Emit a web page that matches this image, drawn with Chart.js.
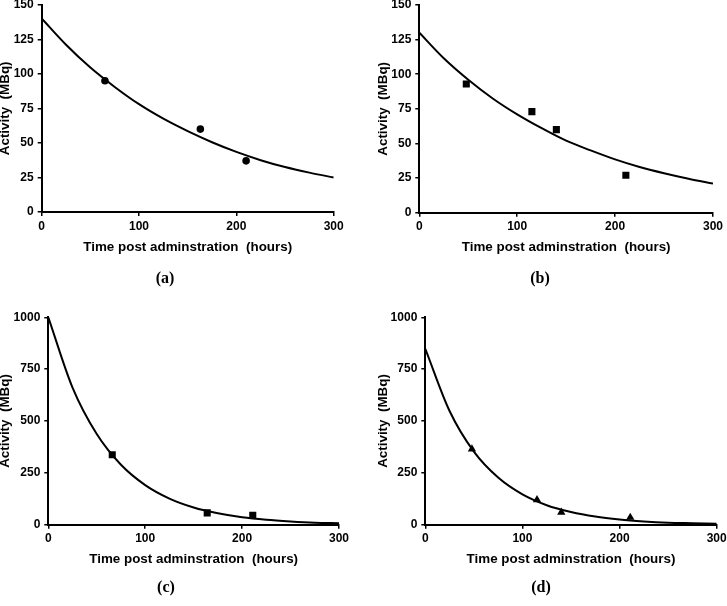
<!DOCTYPE html>
<html>
<head>
<meta charset="utf-8">
<script src="https://cdn.jsdelivr.net/npm/chart.js@4/dist/chart.umd.min.js"></script>
<style>
  html, body { margin: 0; padding: 0; background: #fff; }
  #wrap { position: relative; width: 727px; height: 606px; overflow: hidden; background: #fff; }
  canvas { position: absolute; left: 0; top: 0; }
  .lab { position: absolute; transform: translate(-50%, -50%); font-family: "Liberation Serif", "Times New Roman", serif; font-weight: bold; font-size: 16px; color: #000; white-space: nowrap; }
</style>
</head>
<body>
<div id="wrap">
  <canvas id="ca" width="727" height="606"></canvas>
  <canvas id="cb" width="727" height="606"></canvas>
  <canvas id="cc" width="727" height="606"></canvas>
  <canvas id="cd" width="727" height="606"></canvas>
  <div class="lab" style="left:165px; top:278px;">(a)</div>
  <div class="lab" style="left:540px; top:278px;">(b)</div>
  <div class="lab" style="left:166px; top:587px;">(c)</div>
  <div class="lab" style="left:541px; top:587px;">(d)</div>
</div>
<script>
// ---- data ----
const xTitle = "Time post adminstration  (hours)";
const yTitle = "Activity  (MBq)";
const panelLabels = ["(a)", "(b)", "(c)", "(d)"];
const xTickValues = [0, 100, 200, 300];

// fitted curves (read at every 25 h)
const curveHours = [0, 25, 50, 75, 100, 125, 150, 175, 200, 225, 250, 275, 300];
const curveA = [140, 121, 104.5, 90.5, 78, 67.5, 58.5, 50.5, 43.5, 37.5, 32.5, 28.5, 25];
const curveB = [130, 111.5, 96, 82.5, 71, 61, 52, 45, 38.5, 33, 28.5, 24.5, 21];
const curveC = [1000, 661, 437, 289, 191, 126, 83, 55, 36, 24, 16, 10, 7];
const curveD = [848, 548, 352, 227, 146, 94, 61, 39, 25, 16, 10, 7, 4];

// measured points
const hoursA = [65, 163, 210];
const valuesA = [95, 60, 37];
const hoursB = [48, 115, 140, 211];
const valuesB = [93, 73, 60, 27];
const hoursC = [66, 164, 211];
const valuesC = [337, 57, 45];
const hoursD = [48, 115, 140, 211];
const valuesD = [365, 120, 60, 35];

// ---- drawing ----
const W = 727, H = 606;
function pts(xs, ys) { return xs.map((x, i) => ({ x: x, y: ys[i] })); }

function makePanel(id, area, yMax, yStep, curve, px, py, style, radius) {
  const tickFont = { family: "'Liberation Sans', Arial, sans-serif", size: 12, weight: 'bold' };
  const titleFont = { family: "'Liberation Sans', Arial, sans-serif", size: 13.4, weight: 'bold', lineHeight: 1.2 };
  const halfLine = 13.4 * 1.2 / 2;
  const Wy = area.yTitleOff + halfLine;
  const Hx = 35 + halfLine;
  new Chart(document.getElementById(id), {
    type: 'scatter',
    data: {
      datasets: [
        {
          data: pts(curveHours, curve),
          showLine: true,
          borderColor: '#000',
          borderWidth: 2,
          pointRadius: 0,
          cubicInterpolationMode: 'monotone',
          fill: false
        },
        {
          data: pts(px, py),
          showLine: false,
          pointStyle: style,
          pointRadius: radius,
          backgroundColor: '#000',
          borderColor: '#000',
          borderWidth: 0
        }
      ]
    },
    options: {
      responsive: false,
      animation: false,
      devicePixelRatio: 1,
      layout: {
        padding: {
          left: area.left - Wy,
          right: W - area.right,
          top: area.top,
          bottom: H - area.bottom - Hx
        }
      },
      plugins: { legend: { display: false }, tooltip: { enabled: false } },
      scales: {
        x: {
          type: 'linear',
          min: 0, max: 300,
          afterBuildTicks: (s) => { s.ticks = xTickValues.map(v => ({ value: v })); },
          ticks: { color: '#000', font: tickFont, padding: 3, maxRotation: 0, callback: (v) => String(v) },
          grid: { display: true, drawOnChartArea: false, drawTicks: true, tickLength: 4, color: '#000', lineWidth: 1.5 },
          border: { display: true, color: '#000', width: 2 },
          title: { display: true, text: xTitle, color: '#000', font: titleFont, padding: { top: 0, bottom: 0 } },
          afterFit: (s) => { s.height = Hx; s.paddingLeft = 0; s.paddingRight = 0; }
        },
        y: {
          type: 'linear',
          min: 0, max: yMax,
          ticks: { stepSize: yStep, color: '#000', font: tickFont, padding: 4, callback: (v) => String(v) },
          grid: { display: true, drawOnChartArea: false, drawTicks: true, tickLength: 4, color: '#000', lineWidth: 1.5 },
          border: { display: true, color: '#000', width: 2 },
          title: { display: true, text: yTitle, color: '#000', font: titleFont, padding: { top: 0, bottom: 0 } },
          afterFit: (s) => { s.width = Wy; s.paddingTop = 0; s.paddingBottom = 0; }
        }
      }
    }
  });
}

makePanel('ca', { left: 41.7, right: 333.7, top: 4.7, bottom: 212, yTitleOff: 36 }, 150, 25, curveA, hoursA, valuesA, 'circle', 3.8);
makePanel('cb', { left: 419.3, right: 713, top: 4.7, bottom: 212.7, yTitleOff: 36 }, 150, 25, curveB, hoursB, valuesB, 'rect', 5);
makePanel('cc', { left: 48.3, right: 339, top: 317.3, bottom: 524.7, yTitleOff: 43 }, 1000, 250, curveC, hoursC, valuesC, 'rect', 5);
makePanel('cd', { left: 425.3, right: 716.7, top: 317.3, bottom: 524.7, yTitleOff: 42 }, 1000, 250, curveD, hoursD, valuesD, 'triangle', 4.8);
</script>
</body>
</html>
